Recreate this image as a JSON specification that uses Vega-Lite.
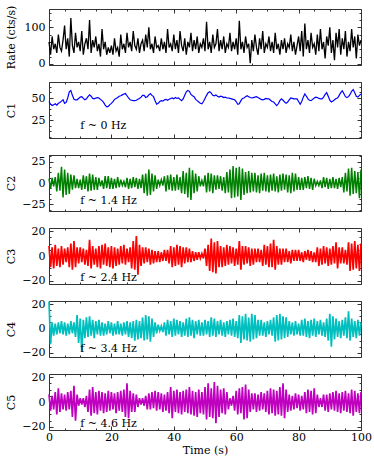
{
"$schema": "https://vega.github.io/schema/vega-lite/v6.json",
"padding": {"left": 4, "top": 4, "right": 10, "bottom": 5},
"spacing": 17,
"bounds": "flush",
"config": {
  "font": "DejaVu Serif",
  "view": {"stroke": "#333", "strokeWidth": 1},
  "axis": {"domain": false, "grid": false, "labelFont": "DejaVu Serif", "labelFontSize": 11, "labelColor": "#000", "titleFont": "DejaVu Serif", "titleFontSize": 11, "titleFontWeight": "normal", "titleColor": "#000", "tickColor": "#333", "labelPadding": 8, "labelFlush": false, "labelOverlap": false}
},
"datasets": {"d": [
{"t":0,"r":60,"a":46,"b":5,"c":8,"d":22,"e":6},
{"t":0.5,"r":25,"a":43,"b":-7,"c":-9,"d":-13,"e":-7},
{"t":1,"r":75,"a":41.5,"b":6,"c":7,"d":5,"e":5},
{"t":1.5,"r":40,"a":42.5,"b":-4,"c":-10,"d":-6,"e":-6},
{"t":2,"r":55,"a":43.5,"b":7,"c":9,"d":4,"e":8},
{"t":2.5,"r":30,"a":42,"b":-10,"c":-8,"d":-5,"e":-10},
{"t":3,"r":80,"a":44,"b":12,"c":6,"d":5,"e":11},
{"t":3.5,"r":45,"a":45,"b":-9,"c":-9,"d":-4,"e":-8},
{"t":4,"r":35,"a":46.5,"b":19,"c":8,"d":6,"e":7},
{"t":4.5,"r":65,"a":48,"b":-17,"c":-7,"d":-5,"e":-6},
{"t":5,"r":105,"a":44,"b":16,"c":6,"d":5,"e":6},
{"t":5.5,"r":40,"a":45,"b":-14,"c":-5,"d":-6,"e":-7},
{"t":6,"r":70,"a":50,"b":12,"c":7,"d":4,"e":8},
{"t":6.5,"r":20,"a":57,"b":-13,"c":-9,"d":-5,"e":-6},
{"t":7,"r":125,"a":58.5,"b":10,"c":10,"d":6,"e":9},
{"t":7.5,"r":50,"a":53,"b":-8,"c":-11,"d":-4,"e":-12},
{"t":8,"r":30,"a":48.5,"b":9,"c":12,"d":5,"e":13},
{"t":8.5,"r":85,"a":48,"b":-6,"c":-9,"d":-7,"e":-15},
{"t":9,"r":45,"a":48,"b":5,"c":7,"d":11,"e":6},
{"t":9.5,"r":60,"a":49.5,"b":-6,"c":-6,"d":-12,"e":-3},
{"t":10,"r":35,"a":51,"b":4,"c":7,"d":8,"e":3},
{"t":10.5,"r":90,"a":51.5,"b":-8,"c":-5,"d":-19,"e":-2},
{"t":11,"r":25,"a":49.5,"b":9,"c":6,"d":7,"e":3},
{"t":11.5,"r":55,"a":48,"b":-7,"c":-7,"d":-8,"e":-4},
{"t":12,"r":70,"a":49,"b":8,"c":5,"d":9,"e":5},
{"t":12.5,"r":40,"a":51.5,"b":-10,"c":-8,"d":-7,"e":-8},
{"t":13,"r":120,"a":53.5,"b":11,"c":13,"d":10,"e":10},
{"t":13.5,"r":30,"a":52,"b":-9,"c":-10,"d":-6,"e":-11},
{"t":14,"r":65,"a":49.5,"b":10,"c":8,"d":7,"e":12},
{"t":14.5,"r":45,"a":49,"b":-8,"c":-7,"d":-8,"e":-9},
{"t":15,"r":75,"a":50,"b":7,"c":6,"d":6,"e":8},
{"t":15.5,"r":35,"a":50.5,"b":-8,"c":-9,"d":-5,"e":-10},
{"t":16,"r":55,"a":50,"b":6,"c":8,"d":7,"e":9},
{"t":16.5,"r":20,"a":48.5,"b":-4,"c":-10,"d":-6,"e":-7},
{"t":17,"r":95,"a":47,"b":3,"c":9,"d":5,"e":8},
{"t":17.5,"r":40,"a":45,"b":-7,"c":-7,"d":-6,"e":-9},
{"t":18,"r":60,"a":42,"b":8,"c":10,"d":4,"e":7},
{"t":18.5,"r":25,"a":40,"b":-6,"c":-8,"d":-5,"e":-8},
{"t":19,"r":45,"a":40.5,"b":8,"c":7,"d":6,"e":9},
{"t":19.5,"r":30,"a":42.5,"b":-7,"c":-9,"d":-4,"e":-7},
{"t":20,"r":50,"a":44,"b":6,"c":8,"d":5,"e":8},
{"t":20.5,"r":25,"a":46,"b":-7,"c":-10,"d":-6,"e":-6},
{"t":21,"r":70,"a":48.5,"b":5,"c":7,"d":4,"e":7},
{"t":21.5,"r":35,"a":49.5,"b":-6,"c":-8,"d":-5,"e":-9},
{"t":22,"r":45,"a":50.5,"b":7,"c":6,"d":6,"e":8},
{"t":22.5,"r":20,"a":52,"b":-5,"c":-7,"d":-5,"e":-7},
{"t":23,"r":80,"a":52.5,"b":4,"c":8,"d":4,"e":9},
{"t":23.5,"r":40,"a":53.5,"b":-3,"c":-6,"d":-6,"e":-8},
{"t":24,"r":55,"a":54.5,"b":2,"c":9,"d":5,"e":10},
{"t":24.5,"r":30,"a":55,"b":-5,"c":-7,"d":-5,"e":-12},
{"t":25,"r":85,"a":52.5,"b":6,"c":6,"d":6,"e":15},
{"t":25.5,"r":45,"a":50,"b":-7,"c":-5,"d":-7,"e":-13},
{"t":26,"r":60,"a":48,"b":5,"c":7,"d":5,"e":9},
{"t":26.5,"r":35,"a":47.5,"b":-6,"c":-10,"d":-8,"e":-8},
{"t":27,"r":90,"a":47,"b":7,"c":12,"d":6,"e":7},
{"t":27.5,"r":50,"a":47,"b":-5,"c":-11,"d":-10,"e":-8},
{"t":28,"r":40,"a":47.5,"b":6,"c":16,"d":7,"e":6},
{"t":28.5,"r":70,"a":48.5,"b":-7,"c":-15,"d":-9,"e":-4},
{"t":29,"r":30,"a":49.5,"b":5,"c":9,"d":6,"e":3},
{"t":29.5,"r":55,"a":51,"b":-6,"c":-8,"d":-8,"e":-2},
{"t":30,"r":65,"a":53,"b":10,"c":7,"d":9,"e":3},
{"t":30.5,"r":35,"a":53,"b":-12,"c":-6,"d":-10,"e":-3},
{"t":31,"r":80,"a":50.5,"b":11,"c":7,"d":11,"e":5},
{"t":31.5,"r":45,"a":51.5,"b":-15,"c":-5,"d":-9,"e":-6},
{"t":32,"r":100,"a":53.5,"b":16,"c":6,"d":10,"e":7},
{"t":32.5,"r":40,"a":55,"b":-14,"c":-7,"d":-11,"e":-6},
{"t":33,"r":55,"a":53,"b":11,"c":5,"d":8,"e":8},
{"t":33.5,"r":30,"a":51.5,"b":-10,"c":-6,"d":-7,"e":-5},
{"t":34,"r":75,"a":47,"b":9,"c":4,"d":5,"e":9},
{"t":34.5,"r":45,"a":43,"b":-7,"c":-5,"d":-4,"e":-7},
{"t":35,"r":50,"a":44,"b":4,"c":4,"d":3,"e":8},
{"t":35.5,"r":35,"a":46,"b":-3,"c":-5,"d":-2,"e":-6},
{"t":36,"r":70,"a":47,"b":4,"c":3,"d":2,"e":7},
{"t":36.5,"r":40,"a":46.5,"b":-3,"c":-4,"d":-3,"e":-8},
{"t":37,"r":60,"a":48,"b":8,"c":5,"d":5,"e":6},
{"t":37.5,"r":30,"a":48.5,"b":-10,"c":-4,"d":-6,"e":-7},
{"t":38,"r":95,"a":47.5,"b":9,"c":5,"d":7,"e":8},
{"t":38.5,"r":45,"a":48.5,"b":-8,"c":-6,"d":-5,"e":-9},
{"t":39,"r":55,"a":49.5,"b":10,"c":8,"d":6,"e":12},
{"t":39.5,"r":35,"a":50,"b":-9,"c":-9,"d":-7,"e":-13},
{"t":40,"r":80,"a":49,"b":7,"c":7,"d":8,"e":9},
{"t":40.5,"r":40,"a":50.5,"b":-9,"c":-8,"d":-6,"e":-8},
{"t":41,"r":65,"a":49.5,"b":10,"c":9,"d":7,"e":10},
{"t":41.5,"r":30,"a":50,"b":-8,"c":-7,"d":-5,"e":-9},
{"t":42,"r":90,"a":48.5,"b":7,"c":8,"d":6,"e":8},
{"t":42.5,"r":50,"a":47,"b":-12,"c":-9,"d":-7,"e":-10},
{"t":43,"r":35,"a":49,"b":14,"c":7,"d":5,"e":9},
{"t":43.5,"r":70,"a":53,"b":-13,"c":-6,"d":-6,"e":-8},
{"t":44,"r":25,"a":57,"b":12,"c":7,"d":8,"e":10},
{"t":44.5,"r":60,"a":58.5,"b":-17,"c":-5,"d":-7,"e":-9},
{"t":45,"r":45,"a":57.5,"b":18,"c":6,"d":9,"e":12},
{"t":45.5,"r":85,"a":54,"b":-20,"c":-5,"d":-6,"e":-10},
{"t":46,"r":35,"a":52.5,"b":15,"c":4,"d":7,"e":9},
{"t":46.5,"r":65,"a":51.5,"b":-12,"c":-4,"d":-8,"e":-11},
{"t":47,"r":40,"a":48.5,"b":11,"c":3,"d":6,"e":8},
{"t":47.5,"r":75,"a":47,"b":-10,"c":-3,"d":-5,"e":-12},
{"t":48,"r":30,"a":45.5,"b":8,"c":3,"d":7,"e":10},
{"t":48.5,"r":55,"a":44,"b":-4,"c":-2,"d":-6,"e":-9},
{"t":49,"r":45,"a":43.5,"b":3,"c":2,"d":5,"e":8},
{"t":49.5,"r":70,"a":46,"b":-4,"c":-2,"d":-6,"e":-10},
{"t":50,"r":35,"a":49.5,"b":9,"c":6,"d":7,"e":12},
{"t":50.5,"r":115,"a":53,"b":-11,"c":-8,"d":-5,"e":-14},
{"t":51,"r":40,"a":56,"b":12,"c":9,"d":6,"e":15},
{"t":51.5,"r":60,"a":57,"b":-10,"c":-12,"d":-7,"e":-12},
{"t":52,"r":30,"a":55.5,"b":11,"c":14,"d":9,"e":11},
{"t":52.5,"r":80,"a":53,"b":-12,"c":-13,"d":-6,"e":-13},
{"t":53,"r":45,"a":52.5,"b":9,"c":11,"d":8,"e":16},
{"t":53.5,"r":55,"a":53.5,"b":-8,"c":-14,"d":-7,"e":-17},
{"t":54,"r":95,"a":52,"b":9,"c":12,"d":6,"e":13},
{"t":54.5,"r":35,"a":51,"b":-7,"c":-9,"d":-5,"e":-12},
{"t":55,"r":65,"a":52,"b":8,"c":8,"d":7,"e":10},
{"t":55.5,"r":40,"a":51.5,"b":-9,"c":-9,"d":-6,"e":-9},
{"t":56,"r":75,"a":50.5,"b":7,"c":7,"d":5,"e":11},
{"t":56.5,"r":30,"a":51,"b":-12,"c":-8,"d":-7,"e":-10},
{"t":57,"r":55,"a":50,"b":13,"c":9,"d":6,"e":8},
{"t":57.5,"r":45,"a":50,"b":-11,"c":-7,"d":-5,"e":-6},
{"t":58,"r":85,"a":49.5,"b":16,"c":8,"d":7,"e":3},
{"t":58.5,"r":35,"a":49,"b":-18,"c":-6,"d":-6,"e":-3},
{"t":59,"r":60,"a":48.5,"b":20,"c":7,"d":8,"e":5},
{"t":59.5,"r":40,"a":48,"b":-17,"c":-8,"d":-7,"e":-7},
{"t":60,"r":70,"a":46,"b":18,"c":6,"d":6,"e":9},
{"t":60.5,"r":25,"a":43,"b":-16,"c":-7,"d":-8,"e":-10},
{"t":61,"r":118,"a":43.5,"b":19,"c":12,"d":11,"e":11},
{"t":61.5,"r":40,"a":47,"b":-20,"c":-11,"d":-12,"e":-9},
{"t":62,"r":60,"a":49.5,"b":17,"c":8,"d":10,"e":12},
{"t":62.5,"r":30,"a":50,"b":-14,"c":-7,"d":-9,"e":-14},
{"t":63,"r":75,"a":51.5,"b":13,"c":8,"d":12,"e":14},
{"t":63.5,"r":45,"a":52.5,"b":-12,"c":-6,"d":-10,"e":-13},
{"t":64,"r":55,"a":51.5,"b":14,"c":7,"d":9,"e":10},
{"t":64.5,"r":2,"a":50.5,"b":-11,"c":-8,"d":-11,"e":-8},
{"t":65,"r":65,"a":50,"b":12,"c":6,"d":12,"e":7},
{"t":65.5,"r":35,"a":50.5,"b":-10,"c":-7,"d":-9,"e":-6},
{"t":66,"r":80,"a":51,"b":12,"c":6,"d":11,"e":7},
{"t":66.5,"r":45,"a":51.5,"b":-11,"c":-5,"d":-8,"e":-8},
{"t":67,"r":25,"a":50.5,"b":9,"c":6,"d":7,"e":6},
{"t":67.5,"r":70,"a":49.5,"b":-12,"c":-5,"d":-6,"e":-7},
{"t":68,"r":40,"a":48.5,"b":11,"c":5,"d":7,"e":8},
{"t":68.5,"r":90,"a":48,"b":-9,"c":-8,"d":-6,"e":-6},
{"t":69,"r":30,"a":48.5,"b":12,"c":9,"d":5,"e":7},
{"t":69.5,"r":55,"a":49.5,"b":-10,"c":-7,"d":-7,"e":-8},
{"t":70,"r":45,"a":49,"b":9,"c":8,"d":6,"e":9},
{"t":70.5,"r":75,"a":49,"b":-11,"c":-9,"d":-5,"e":-10},
{"t":71,"r":35,"a":47.5,"b":10,"c":10,"d":7,"e":11},
{"t":71.5,"r":60,"a":46,"b":-9,"c":-9,"d":-6,"e":-9},
{"t":72,"r":30,"a":45.5,"b":11,"c":13,"d":9,"e":10},
{"t":72.5,"r":85,"a":43.5,"b":-10,"c":-11,"d":-11,"e":-11},
{"t":73,"r":40,"a":41.5,"b":8,"c":8,"d":11,"e":9},
{"t":73.5,"r":55,"a":43.5,"b":-11,"c":-7,"d":-10,"e":-10},
{"t":74,"r":25,"a":47,"b":10,"c":6,"d":12,"e":12},
{"t":74.5,"r":65,"a":49,"b":-9,"c":-7,"d":-9,"e":-11},
{"t":75,"r":40,"a":47.5,"b":11,"c":6,"d":10,"e":15},
{"t":75.5,"r":70,"a":45.5,"b":-8,"c":-5,"d":-8,"e":-13},
{"t":76,"r":30,"a":44,"b":10,"c":6,"d":9,"e":10},
{"t":76.5,"r":55,"a":45.5,"b":-11,"c":-5,"d":-7,"e":-8},
{"t":77,"r":45,"a":48,"b":9,"c":4,"d":6,"e":6},
{"t":77.5,"r":80,"a":50,"b":-12,"c":-6,"d":-5,"e":-7},
{"t":78,"r":35,"a":49.5,"b":12,"c":5,"d":5,"e":5},
{"t":78.5,"r":60,"a":49,"b":-10,"c":-4,"d":-6,"e":-6},
{"t":79,"r":25,"a":49,"b":11,"c":5,"d":6,"e":7},
{"t":79.5,"r":50,"a":49,"b":-8,"c":-4,"d":-5,"e":-5},
{"t":80,"r":75,"a":46,"b":7,"c":5,"d":4,"e":6},
{"t":80.5,"r":35,"a":43,"b":-8,"c":-4,"d":-6,"e":-7},
{"t":81,"r":90,"a":46,"b":6,"c":3,"d":7,"e":5},
{"t":81.5,"r":20,"a":51,"b":-8,"c":-5,"d":-6,"e":-6},
{"t":82,"r":110,"a":54.5,"b":7,"c":4,"d":8,"e":8},
{"t":82.5,"r":40,"a":52,"b":-6,"c":-3,"d":-7,"e":-9},
{"t":83,"r":65,"a":49,"b":8,"c":5,"d":6,"e":10},
{"t":83.5,"r":30,"a":47.5,"b":-7,"c":-4,"d":-8,"e":-8},
{"t":84,"r":85,"a":47,"b":6,"c":4,"d":7,"e":9},
{"t":84.5,"r":45,"a":48.5,"b":-8,"c":-5,"d":-6,"e":-10},
{"t":85,"r":55,"a":50,"b":5,"c":3,"d":8,"e":11},
{"t":85.5,"r":25,"a":51,"b":-3,"c":-5,"d":-7,"e":-9},
{"t":86,"r":80,"a":50.5,"b":2,"c":7,"d":6,"e":6},
{"t":86.5,"r":35,"a":49.5,"b":-3,"c":-8,"d":-5,"e":-4},
{"t":87,"r":95,"a":49,"b":3,"c":6,"d":7,"e":3},
{"t":87.5,"r":40,"a":49,"b":-6,"c":-7,"d":-6,"e":-4},
{"t":88,"r":60,"a":51,"b":7,"c":8,"d":5,"e":6},
{"t":88.5,"r":15,"a":54,"b":-5,"c":-6,"d":-7,"e":-7},
{"t":89,"r":75,"a":56,"b":6,"c":7,"d":8,"e":6},
{"t":89.5,"r":50,"a":52,"b":-7,"c":-8,"d":-10,"e":-8},
{"t":90,"r":100,"a":47.5,"b":5,"c":6,"d":12,"e":7},
{"t":90.5,"r":30,"a":45.5,"b":-6,"c":-7,"d":-15,"e":-6},
{"t":91,"r":65,"a":46.5,"b":7,"c":8,"d":10,"e":8},
{"t":91.5,"r":10,"a":48,"b":-6,"c":-6,"d":-9,"e":-7},
{"t":92,"r":85,"a":49.5,"b":5,"c":11,"d":8,"e":9},
{"t":92.5,"r":45,"a":50,"b":-7,"c":-10,"d":-7,"e":-8},
{"t":93,"r":95,"a":53,"b":6,"c":7,"d":6,"e":7},
{"t":93.5,"r":25,"a":56,"b":-5,"c":-6,"d":-8,"e":-9},
{"t":94,"r":70,"a":58,"b":7,"c":7,"d":7,"e":8},
{"t":94.5,"r":40,"a":55,"b":-11,"c":-6,"d":-6,"e":-7},
{"t":95,"r":90,"a":51.5,"b":12,"c":5,"d":9,"e":9},
{"t":95.5,"r":20,"a":50.5,"b":-10,"c":-7,"d":-8,"e":-8},
{"t":96,"r":60,"a":51.5,"b":17,"c":11,"d":14,"e":7},
{"t":96.5,"r":35,"a":54,"b":-15,"c":-12,"d":-10,"e":-9},
{"t":97,"r":95,"a":57.5,"b":18,"c":10,"d":8,"e":10},
{"t":97.5,"r":45,"a":59.5,"b":-13,"c":-11,"d":-7,"e":-11},
{"t":98,"r":75,"a":56,"b":14,"c":12,"d":6,"e":9},
{"t":98.5,"r":15,"a":52,"b":-12,"c":-10,"d":-8,"e":-8},
{"t":99,"r":80,"a":51,"b":13,"c":9,"d":7,"e":7},
{"t":99.5,"r":50,"a":53,"b":-18,"c":-12,"d":-6,"e":-9},
{"t":100,"r":65,"a":54.5,"b":16,"c":10,"d":5,"e":8}
]},
"vconcat": [
{
  "width": 312, "height": 56,
  "layer": [
    {"data": {"name": "d"}, "mark": {"type": "line", "color": "#000000", "strokeWidth": 1.3},
     "encoding": {
      "x": {"field": "t", "type": "quantitative", "scale": {"domain": [0, 100], "nice": false}, "axis": {"orient": "bottom", "values": [0,5,10,15,20,25,30,35,40,45,50,55,60,65,70,75,80,85,90,95,100], "labels": false, "title": null, "tickSize": {"condition": {"test": "datum.value % 20 === 0", "value": -4}, "value": -2}}},
      "y": {"field": "r", "type": "quantitative", "scale": {"domain": [-3, 150], "nice": false, "zero": false}, "axis": {"orient": "left", "values": [0,20,40,60,80,100,120,140], "labelExpr": "datum.value % 100 === 0 ? datum.label : ''", "title": "Rate (cts/s)", "titleX": -33, "tickSize": {"condition": {"test": "datum.value % 100 === 0", "value": -4}, "value": -2}}}
     }},
    {"data": {"name": "d"}, "mark": {"type": "line", "opacity": 0},
     "encoding": {
      "x": {"field": "t", "type": "quantitative", "scale": {"domain": [0, 100], "nice": false}, "axis": {"orient": "top", "values": [0,5,10,15,20,25,30,35,40,45,50,55,60,65,70,75,80,85,90,95,100], "labels": false, "title": null, "tickSize": {"condition": {"test": "datum.value % 20 === 0", "value": -4}, "value": -2}}},
      "y": {"field": "r", "type": "quantitative", "scale": {"domain": [-3, 150], "nice": false, "zero": false}, "axis": {"orient": "right", "values": [0,20,40,60,80,100,120,140], "labels": false, "title": null, "tickSize": {"condition": {"test": "datum.value % 100 === 0", "value": -4}, "value": -2}}}
     }}
  ],
  "resolve": {"axis": {"x": "independent", "y": "independent"}}
},
{
  "width": 312, "height": 56,
  "layer": [
    {"data": {"name": "d"}, "mark": {"type": "line", "color": "#0000ff", "strokeWidth": 1.2},
     "encoding": {
      "x": {"field": "t", "type": "quantitative", "scale": {"domain": [0, 100], "nice": false}, "axis": {"orient": "bottom", "values": [0,5,10,15,20,25,30,35,40,45,50,55,60,65,70,75,80,85,90,95,100], "labels": false, "title": null, "tickSize": {"condition": {"test": "datum.value % 20 === 0", "value": -4}, "value": -2}}},
      "y": {"field": "a", "type": "quantitative", "scale": {"domain": [5, 68], "nice": false, "zero": false}, "axis": {"orient": "left", "values": [6.25,12.5,18.75,25,31.25,37.5,43.75,50,56.25,62.5], "labelExpr": "datum.value % 25 === 0 ? datum.label : ''", "title": "C1", "titleX": -33, "tickSize": {"condition": {"test": "datum.value % 25 === 0", "value": -4}, "value": -2}}}
     }},
    {"data": {"name": "d"}, "mark": {"type": "line", "opacity": 0},
     "encoding": {
      "x": {"field": "t", "type": "quantitative", "scale": {"domain": [0, 100], "nice": false}, "axis": {"orient": "top", "values": [0,5,10,15,20,25,30,35,40,45,50,55,60,65,70,75,80,85,90,95,100], "labels": false, "title": null, "tickSize": {"condition": {"test": "datum.value % 20 === 0", "value": -4}, "value": -2}}},
      "y": {"field": "a", "type": "quantitative", "scale": {"domain": [5, 68], "nice": false, "zero": false}, "axis": {"orient": "right", "values": [6.25,12.5,18.75,25,31.25,37.5,43.75,50,56.25,62.5], "labels": false, "title": null, "tickSize": {"condition": {"test": "datum.value % 25 === 0", "value": -4}, "value": -2}}}
     }},
    {"data": {"values": [{"lab": "f ~ 0 Hz"}]}, "mark": {"type": "text", "align": "left", "baseline": "middle", "fontSize": 11, "font": "DejaVu Serif", "color": "#000"},
     "encoding": {"x": {"datum": 10, "type": "quantitative", "axis": null}, "y": {"datum": 19, "type": "quantitative", "axis": null}, "text": {"field": "lab"}}}
  ],
  "resolve": {"axis": {"x": "independent", "y": "independent"}}
},
{
  "width": 312, "height": 56,
  "layer": [
    {"data": {"name": "d"}, "mark": {"type": "line", "color": "#008000", "strokeWidth": 1.5},
     "encoding": {
      "x": {"field": "t", "type": "quantitative", "scale": {"domain": [0, 100], "nice": false}, "axis": {"orient": "bottom", "values": [0,5,10,15,20,25,30,35,40,45,50,55,60,65,70,75,80,85,90,95,100], "labels": false, "title": null, "tickSize": {"condition": {"test": "datum.value % 20 === 0", "value": -4}, "value": -2}}},
      "y": {"field": "b", "type": "quantitative", "scale": {"domain": [-33, 33], "nice": false, "zero": false}, "axis": {"orient": "left", "values": [-31.25,-25,-18.75,-12.5,-6.25,0,6.25,12.5,18.75,25,31.25], "labelExpr": "datum.value % 25 === 0 ? datum.label : ''", "title": "C2", "titleX": -33, "tickSize": {"condition": {"test": "datum.value % 25 === 0", "value": -4}, "value": -2}}}
     }},
    {"data": {"name": "d"}, "mark": {"type": "line", "opacity": 0},
     "encoding": {
      "x": {"field": "t", "type": "quantitative", "scale": {"domain": [0, 100], "nice": false}, "axis": {"orient": "top", "values": [0,5,10,15,20,25,30,35,40,45,50,55,60,65,70,75,80,85,90,95,100], "labels": false, "title": null, "tickSize": {"condition": {"test": "datum.value % 20 === 0", "value": -4}, "value": -2}}},
      "y": {"field": "b", "type": "quantitative", "scale": {"domain": [-33, 33], "nice": false, "zero": false}, "axis": {"orient": "right", "values": [-31.25,-25,-18.75,-12.5,-6.25,0,6.25,12.5,18.75,25,31.25], "labels": false, "title": null, "tickSize": {"condition": {"test": "datum.value % 25 === 0", "value": -4}, "value": -2}}}
     }},
    {"data": {"values": [{"lab": "f ~ 1.4 Hz"}]}, "mark": {"type": "text", "align": "left", "baseline": "middle", "fontSize": 11, "font": "DejaVu Serif", "color": "#000"},
     "encoding": {"x": {"datum": 10, "type": "quantitative", "axis": null}, "y": {"datum": -21, "type": "quantitative", "axis": null}, "text": {"field": "lab"}}}
  ],
  "resolve": {"axis": {"x": "independent", "y": "independent"}}
},
{
  "width": 312, "height": 56,
  "layer": [
    {"data": {"name": "d"}, "mark": {"type": "line", "color": "#ff0000", "strokeWidth": 1.7},
     "encoding": {
      "x": {"field": "t", "type": "quantitative", "scale": {"domain": [0, 100], "nice": false}, "axis": {"orient": "bottom", "values": [0,5,10,15,20,25,30,35,40,45,50,55,60,65,70,75,80,85,90,95,100], "labels": false, "title": null, "tickSize": {"condition": {"test": "datum.value % 20 === 0", "value": -4}, "value": -2}}},
      "y": {"field": "c", "type": "quantitative", "scale": {"domain": [-22.5, 22.5], "nice": false, "zero": false}, "axis": {"orient": "left", "values": [-20,-15,-10,-5,0,5,10,15,20], "labelExpr": "datum.value % 20 === 0 ? datum.label : ''", "title": "C3", "titleX": -33, "tickSize": {"condition": {"test": "datum.value % 20 === 0", "value": -4}, "value": -2}}}
     }},
    {"data": {"name": "d"}, "mark": {"type": "line", "opacity": 0},
     "encoding": {
      "x": {"field": "t", "type": "quantitative", "scale": {"domain": [0, 100], "nice": false}, "axis": {"orient": "top", "values": [0,5,10,15,20,25,30,35,40,45,50,55,60,65,70,75,80,85,90,95,100], "labels": false, "title": null, "tickSize": {"condition": {"test": "datum.value % 20 === 0", "value": -4}, "value": -2}}},
      "y": {"field": "c", "type": "quantitative", "scale": {"domain": [-22.5, 22.5], "nice": false, "zero": false}, "axis": {"orient": "right", "values": [-20,-15,-10,-5,0,5,10,15,20], "labels": false, "title": null, "tickSize": {"condition": {"test": "datum.value % 20 === 0", "value": -4}, "value": -2}}}
     }},
    {"data": {"values": [{"lab": "f ~ 2.4 Hz"}]}, "mark": {"type": "text", "align": "left", "baseline": "middle", "fontSize": 11, "font": "DejaVu Serif", "color": "#000"},
     "encoding": {"x": {"datum": 10, "type": "quantitative", "axis": null}, "y": {"datum": -17.3, "type": "quantitative", "axis": null}, "text": {"field": "lab"}}}
  ],
  "resolve": {"axis": {"x": "independent", "y": "independent"}}
},
{
  "width": 312, "height": 56,
  "layer": [
    {"data": {"name": "d"}, "mark": {"type": "line", "color": "#00bfbf", "strokeWidth": 1.7},
     "encoding": {
      "x": {"field": "t", "type": "quantitative", "scale": {"domain": [0, 100], "nice": false}, "axis": {"orient": "bottom", "values": [0,5,10,15,20,25,30,35,40,45,50,55,60,65,70,75,80,85,90,95,100], "labels": false, "title": null, "tickSize": {"condition": {"test": "datum.value % 20 === 0", "value": -4}, "value": -2}}},
      "y": {"field": "d", "type": "quantitative", "scale": {"domain": [-23.5, 22.5], "nice": false, "zero": false}, "axis": {"orient": "left", "values": [-20,-15,-10,-5,0,5,10,15,20], "labelExpr": "datum.value % 20 === 0 ? datum.label : ''", "title": "C4", "titleX": -33, "tickSize": {"condition": {"test": "datum.value % 20 === 0", "value": -4}, "value": -2}}}
     }},
    {"data": {"name": "d"}, "mark": {"type": "line", "opacity": 0},
     "encoding": {
      "x": {"field": "t", "type": "quantitative", "scale": {"domain": [0, 100], "nice": false}, "axis": {"orient": "top", "values": [0,5,10,15,20,25,30,35,40,45,50,55,60,65,70,75,80,85,90,95,100], "labels": false, "title": null, "tickSize": {"condition": {"test": "datum.value % 20 === 0", "value": -4}, "value": -2}}},
      "y": {"field": "d", "type": "quantitative", "scale": {"domain": [-23.5, 22.5], "nice": false, "zero": false}, "axis": {"orient": "right", "values": [-20,-15,-10,-5,0,5,10,15,20], "labels": false, "title": null, "tickSize": {"condition": {"test": "datum.value % 20 === 0", "value": -4}, "value": -2}}}
     }},
    {"data": {"values": [{"lab": "f ~ 3.4 Hz"}]}, "mark": {"type": "text", "align": "left", "baseline": "middle", "fontSize": 11, "font": "DejaVu Serif", "color": "#000"},
     "encoding": {"x": {"datum": 10, "type": "quantitative", "axis": null}, "y": {"datum": -17, "type": "quantitative", "axis": null}, "text": {"field": "lab"}}}
  ],
  "resolve": {"axis": {"x": "independent", "y": "independent"}}
},
{
  "width": 312, "height": 56,
  "layer": [
    {"data": {"name": "d"}, "mark": {"type": "line", "color": "#bf00bf", "strokeWidth": 1.7},
     "encoding": {
      "x": {"field": "t", "type": "quantitative", "scale": {"domain": [0, 100], "nice": false}, "axis": {"orient": "bottom", "values": [0,5,10,15,20,25,30,35,40,45,50,55,60,65,70,75,80,85,90,95,100], "labelExpr": "datum.value % 20 === 0 ? datum.label : ''", "labelPadding": 5, "title": "Time (s)", "titlePadding": 0, "tickSize": {"condition": {"test": "datum.value % 20 === 0", "value": -4}, "value": -2}}},
      "y": {"field": "e", "type": "quantitative", "scale": {"domain": [-22.5, 22.5], "nice": false, "zero": false}, "axis": {"orient": "left", "values": [-20,-15,-10,-5,0,5,10,15,20], "labelExpr": "datum.value % 20 === 0 ? datum.label : ''", "title": "C5", "titleX": -33, "tickSize": {"condition": {"test": "datum.value % 20 === 0", "value": -4}, "value": -2}}}
     }},
    {"data": {"name": "d"}, "mark": {"type": "line", "opacity": 0},
     "encoding": {
      "x": {"field": "t", "type": "quantitative", "scale": {"domain": [0, 100], "nice": false}, "axis": {"orient": "top", "values": [0,5,10,15,20,25,30,35,40,45,50,55,60,65,70,75,80,85,90,95,100], "labels": false, "title": null, "tickSize": {"condition": {"test": "datum.value % 20 === 0", "value": -4}, "value": -2}}},
      "y": {"field": "e", "type": "quantitative", "scale": {"domain": [-22.5, 22.5], "nice": false, "zero": false}, "axis": {"orient": "right", "values": [-20,-15,-10,-5,0,5,10,15,20], "labels": false, "title": null, "tickSize": {"condition": {"test": "datum.value % 20 === 0", "value": -4}, "value": -2}}}
     }},
    {"data": {"values": [{"lab": "f ~ 4.6 Hz"}]}, "mark": {"type": "text", "align": "left", "baseline": "middle", "fontSize": 11, "font": "DejaVu Serif", "color": "#000"},
     "encoding": {"x": {"datum": 10, "type": "quantitative", "axis": null}, "y": {"datum": -18, "type": "quantitative", "axis": null}, "text": {"field": "lab"}}}
  ],
  "resolve": {"axis": {"x": "independent", "y": "independent"}}
}
]
}
